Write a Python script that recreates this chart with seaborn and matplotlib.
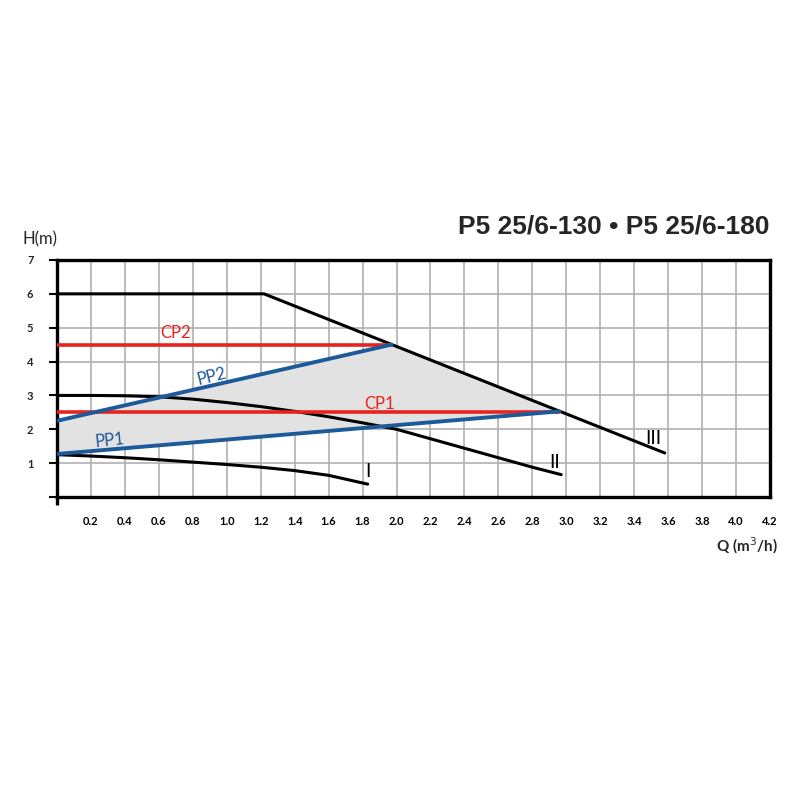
import matplotlib
matplotlib.use("Agg")
import matplotlib.pyplot as plt
import seaborn as sns
import pandas as pd
import numpy as np

# ---- data ----
q_I = [0.0, 0.2, 0.4, 0.6, 0.8, 1.0, 1.2, 1.4, 1.6, 1.83]
h_I = [1.25, 1.21, 1.16, 1.10, 1.03, 0.96, 0.88, 0.78, 0.64, 0.38]

q_II = [0.0, 0.2, 0.4, 0.6, 0.8, 1.0, 1.2, 1.4, 1.6, 1.8, 2.0, 2.2, 2.4, 2.6, 2.8, 2.97]
h_II = [3.0, 3.0, 2.99, 2.96, 2.89, 2.79, 2.67, 2.53, 2.37, 2.19, 2.0, 1.72, 1.44, 1.16, 0.88, 0.66]

q_III = [0.0, 1.22, 3.58]
h_III = [6.0, 6.0, 1.3]

q_PP1 = [0.0, 2.96]
h_PP1 = [1.27, 2.53]
q_PP2 = [0.0, 1.97]
h_PP2 = [2.25, 4.5]
q_CP1 = [0.0, 2.96]
h_CP1 = [2.5, 2.5]
q_CP2 = [0.0, 1.97]
h_CP2 = [4.5, 4.5]

# gray area polygon: PP1 bottom, PP2 top, then curve III back down
q_area = [0.0, 2.96, 1.97, 0.0]
h_area = [1.27, 2.53, 4.5, 2.25]

x_ticks = [0.2, 0.4, 0.6, 0.8, 1.0, 1.2, 1.4, 1.6, 1.8, 2.0, 2.2, 2.4, 2.6, 2.8,
           3.0, 3.2, 3.4, 3.6, 3.8, 4.0, 4.2]
x_labels = ["0.2", "0.4", "0.6", "0.8", "1.0", "1.2", "1.4", "1.6", "1.8", "2.0", "2.2",
            "2.4", "2.6", "2.8", "3.0", "3.2", "3.4", "3.6", "3.8", "4.0", "4.2"]
y_ticks = [1, 2, 3, 4, 5, 6, 7]
y_labels = ["1", "2", "3", "4", "5", "6", "7"]

title = "P5 25/6-130 \u2022 P5 25/6-180"

# ---- style ----
sns.set_theme(style="white")
plt.rcParams['font.family'] = ['Lato', 'DejaVu Sans']

RED = "#e8231f"
BLUE = "#1c5a9a"
GRAY = "#e2e2e2"
GRID = "#b0b0b0"

fig = plt.figure(figsize=(8, 8), dpi=100)
ax = fig.add_axes([57/800, 1-497/800, (770-57)/800, (497-260)/800])

ax.set_xlim(0, 4.2)
ax.set_ylim(0, 7)
ax.set_axisbelow(True)

ax.fill(q_area, h_area, color=GRAY, zorder=1, linewidth=0)

def line(q, h, color, lw):
    df = pd.DataFrame({"q": q, "h": h})
    sns.lineplot(data=df, x="q", y="h", sort=False, color=color, linewidth=lw,
                 ax=ax, zorder=3, estimator=None)

line(q_I, h_I, "black", 2.2)
line(q_II, h_II, "black", 2.2)
line(q_III, h_III, "black", 2.2)
line(q_CP2, h_CP2, RED, 2.6)
line(q_CP1, h_CP1, RED, 2.6)
line(q_PP2, h_PP2, BLUE, 2.8)
line(q_PP1, h_PP1, BLUE, 2.8)

# labels on curves
lab = dict(fontsize=12, ha="center", va="center", zorder=5)
ax.text(0.70, 4.85, "CP2", color=RED, **lab)
ax.text(1.90, 2.74, "CP1", color=RED, **lab)
ax.text(0.91, 3.55, "PP2", color=BLUE, rotation=14, **lab)
ax.text(0.31, 1.68, "PP1", color=BLUE, rotation=6, **lab)
ax.text(1.83, 0.74, "I", color="black", fontsize=14, ha="center", va="center")
ax.text(2.93, 1.03, "II", color="black", fontsize=14, ha="center", va="center")
ax.text(3.51, 1.73, "III", color="black", fontsize=14, ha="center", va="center")

# spines
for s in ax.spines.values():
    s.set_visible(True)
    s.set_color("black")
    s.set_linewidth(2.4)

ax.set_xlabel("")
ax.set_ylabel("")

ax.set_xticks(x_ticks)
ax.set_xticklabels(x_labels)
ax.set_xticks([0.0], minor=True)
ax.set_yticks(y_ticks)
ax.set_yticklabels(y_labels)
ax.set_yticks([0], minor=True)
ax.tick_params(axis="x", which="major", direction="out", length=6, width=1.2,
               color=GRID, pad=8, labelsize=8, labelcolor="black")
ax.tick_params(axis="x", which="minor", direction="out", length=6, width=2.4,
               color="black", bottom=True)
ax.tick_params(axis="y", which="both", direction="out", length=6, width=1.5,
               color="black", pad=11, labelsize=8, left=True)
for t in ax.get_xticklabels() + ax.get_yticklabels():
    t.set_fontweight("bold")
ax.grid(True, which="major", color=GRID, linewidth=1.2)
ax.xaxis.grid(True, which="minor", color=GRID, linewidth=1.2)
ax.yaxis.grid(True, which="minor", color=GRID, linewidth=1.2)

fig.text(770/800, 1-226/800, title, ha="right", va="center", fontsize=19,
         fontweight="bold", family=["Liberation Sans", "DejaVu Sans"])
fig.text(23/800, 1-239/800, "H(m)", ha="left", va="center", fontsize=12)
fig.text(778/800, 1-546/800, "Q (m$^3$/h)", ha="right", va="center", fontsize=11,
         fontweight="bold")

fig.savefig("out.png", dpi=100)
